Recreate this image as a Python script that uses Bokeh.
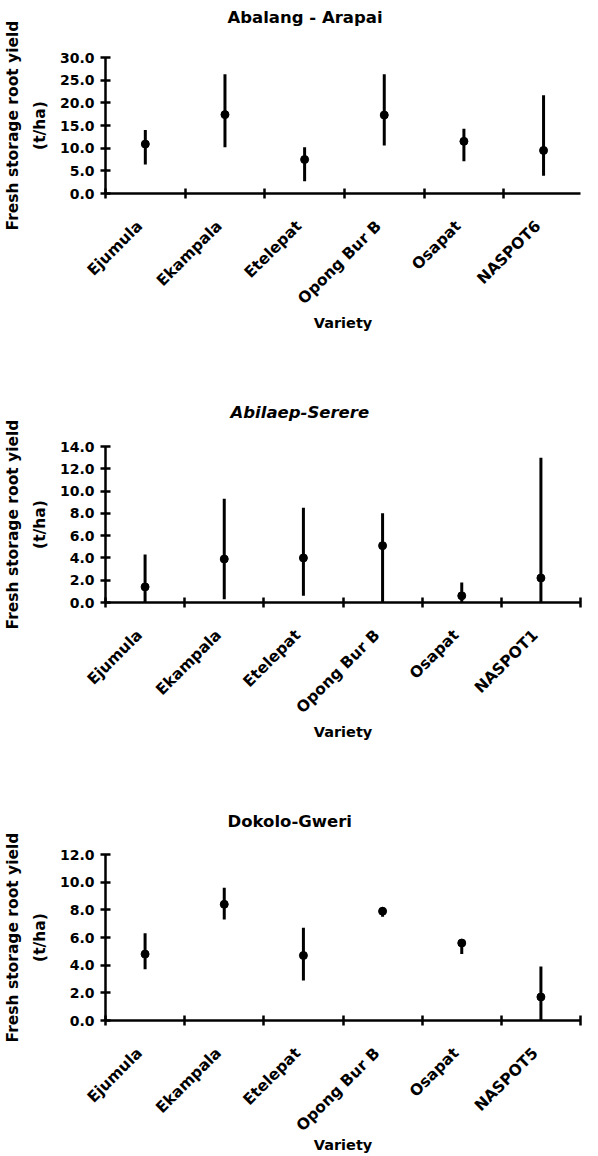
import math
import numpy as np
from bokeh.plotting import figure
from bokeh.layouts import column
from bokeh.models import Range1d, FixedTicker, PrintfTickFormatter, Title
from bokeh.embed import file_html
from bokeh.resources import INLINE

# Abalang - Arapai
varieties_a = ["Ejumula", "Ekampala", "Etelepat", "Opong Bur B", "Osapat", "NASPOT6"]
mean_a = [10.9, 17.4, 7.5, 17.3, 11.5, 9.5]
low_a = [6.4, 10.2, 2.7, 10.6, 7.1, 3.9]
high_a = [14.0, 26.3, 10.2, 26.3, 14.3, 21.7]
yticks_a = [0, 5, 10, 15, 20, 25, 30]

# Abilaep-Serere
varieties_b = ["Ejumula", "Ekampala", "Etelepat", "Opong Bur B", "Osapat", "NASPOT1"]
mean_b = [1.4, 3.9, 4.0, 5.1, 0.6, 2.2]
low_b = [0.0, 0.3, 0.6, 0.0, 0.0, 0.0]
high_b = [4.3, 9.3, 8.5, 8.0, 1.8, 13.0]
yticks_b = [0, 2, 4, 6, 8, 10, 12, 14]

# Dokolo-Gweri
varieties_c = ["Ejumula", "Ekampala", "Etelepat", "Opong Bur B", "Osapat", "NASPOT5"]
mean_c = [4.8, 8.4, 4.7, 7.9, 5.6, 1.7]
low_c = [3.7, 7.3, 2.9, 7.5, 4.8, 0.0]
high_c = [6.3, 9.6, 6.7, 8.2, 5.8, 3.9]
yticks_c = [0, 2, 4, 6, 8, 10, 12]

FONT = "DejaVu Sans"
LABEL_SHIFT = 0.07   # pull slanted category labels slightly left of the point


def panel(title, title_style, cats, mean, low, high, yticks, height,
          top, bottom, left, right, x_end, title_offset, title_gap, xlabel_standoff):
    n = len(cats)
    p = figure(width=598, height=height, output_backend="svg", toolbar_location=None,
               title_location=None,
               x_range=Range1d(0, x_end), y_range=Range1d(0, yticks[-1]),
               min_border_top=top, min_border_bottom=bottom,
               min_border_left=left, min_border_right=right)
    p.outline_line_color = None
    p.grid.visible = False
    p.background_fill_color = "white"

    x = np.arange(n) + 0.5
    p.segment(x0=x, y0=low, x1=x, y1=high, line_width=3, line_color="black")
    p.scatter(x, mean, size=8, color="black")

    # heading: a blank spacer next to the plot area, then the heading itself
    p.add_layout(Title(text=" ", text_font_size="1px", standoff=title_gap), "above")
    p.add_layout(Title(text=title, text_font=FONT, text_font_size="16.5px",
                       text_font_style=title_style, text_color="black",
                       align="left", offset=title_offset, standoff=0), "above")

    # x axis: labels centred in each category, ticks on the boundaries
    lx = x - LABEL_SHIFT
    xa = p.xaxis[0]
    xa.ticker = FixedTicker(ticks=list(lx), minor_ticks=list(range(n + 1)))
    xa.major_label_overrides = {float(v): c for v, c in zip(lx, cats)}
    xa.major_tick_in = 0
    xa.major_tick_out = 0
    xa.minor_tick_in = 5
    xa.minor_tick_out = 5
    xa.minor_tick_line_width = 2.5
    xa.minor_tick_line_color = "black"
    xa.axis_line_width = 2.5
    xa.axis_line_color = "black"
    xa.major_label_orientation = math.pi / 4
    xa.major_label_standoff = 25
    xa.major_label_text_font = FONT
    xa.major_label_text_font_style = "bold"
    xa.major_label_text_font_size = "15.5px"
    xa.major_label_text_color = "black"
    xa.axis_label = "Variety"
    xa.axis_label_text_font = FONT
    xa.axis_label_text_font_style = "bold"
    xa.axis_label_text_font_size = "14.5px"
    xa.axis_label_text_color = "black"
    xa.axis_label_standoff = xlabel_standoff

    # y axis
    ya = p.yaxis[0]
    ya.ticker = FixedTicker(ticks=yticks, minor_ticks=[])
    ya.formatter = PrintfTickFormatter(format="%.1f")
    ya.major_tick_in = 5
    ya.major_tick_out = 5
    ya.major_tick_line_width = 2.5
    ya.major_tick_line_color = "black"
    ya.axis_line_width = 2.5
    ya.axis_line_color = "black"
    ya.major_label_standoff = 6
    ya.major_label_text_font = FONT
    ya.major_label_text_font_style = "bold"
    ya.major_label_text_font_size = "14px"
    ya.major_label_text_color = "black"
    ya.axis_label = "Fresh storage root yield\n(t/ha)"
    ya.axis_label_text_font = FONT
    ya.axis_label_text_font_style = "bold"
    ya.axis_label_text_font_size = "15.5px"
    ya.axis_label_text_color = "black"
    ya.axis_label_text_line_height = 1.5
    ya.axis_label_standoff = 8
    return p


p1 = panel("Abalang - Arapai", "bold", varieties_a, mean_a, low_a, high_a, yticks_a,
           380, 57, 187, 103, 0, (598 - 103) / 83.0, 122, 28, -2)
p2 = panel("Abilaep-Serere", "bold italic", varieties_b, mean_b, low_b, high_b, yticks_b,
           400, 66, 178, 105, 1, 6, 125, 22, -2)
p3 = panel("Dokolo-Gweri", "bold", varieties_c, mean_c, low_c, high_c, yticks_c,
           376, 74, 136, 100, 18, 6, 122, 21, -7)

layout = column(p1, p2, p3)
open("out.html", "w").write(file_html(layout, INLINE))
